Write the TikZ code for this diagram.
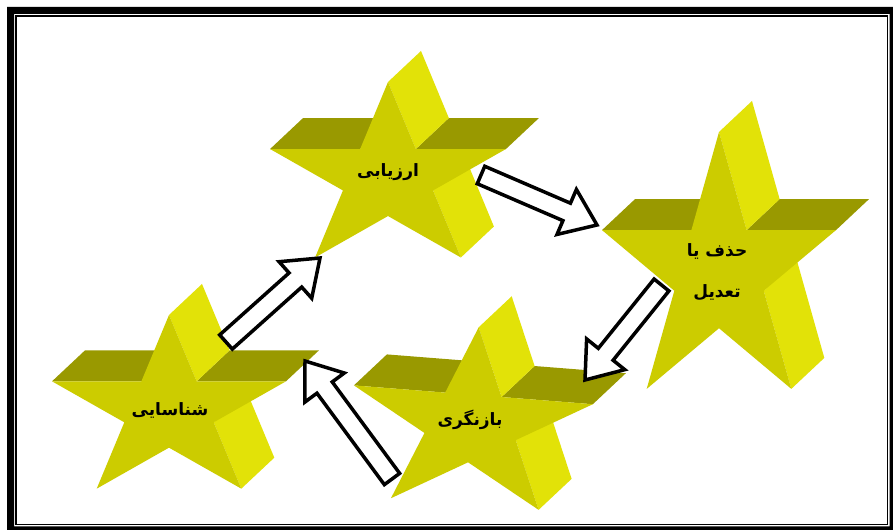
\documentclass[tikz,border=0pt]{standalone}
\usepackage{fontspec}
\newfontfamily\arabicfont[Script=Arabic]{DejaVu Sans}
\TeXXeTstate=1
\usetikzlibrary{calc}
\definecolor{starfront}{RGB}{204,204,0}
\definecolor{stardark}{RGB}{153,153,0}
\definecolor{starlight}{RGB}{226,226,8}
\tikzset{
  starlabel/.style={font=\arabicfont\bfseries\fontsize{17}{41}\selectfont, text=black, inner sep=0pt, align=center},
  blockarrowstyle/.style={draw=black, fill=white, line width=3.5pt, line join=miter},
  frontface/.style={fill=starfront},
  darkface/.style={fill=stardark},
  lightface/.style={fill=starlight},
}
% #1 name, #2 cx, #3 cy, #4 horizontal radius, #5 vertical radius, #6 rotation
\newcommand{\threedstar}[6]{%
  \begin{scope}[shift={(#2,#3)}, rotate=#6]
    \foreach \k in {0,...,9}{%
      \pgfmathsetmacro{\rr}{ifthenelse(mod(\k,2)==0,1,0.382)}
      \coordinate (#1-\k) at ({#4*\rr*cos(90+36*\k)},{#5*\rr*sin(90+36*\k)});
    }
  \end{scope}
  \foreach \k in {0,...,9}{%
    \coordinate (#1-b\k) at ($(#1-\k)+(33,31)$);
  }
  \fill[darkface] (#1-2) -- (#1-1) -- (#1-b1) -- (#1-b2) -- cycle;
  \fill[darkface] (#1-9) -- (#1-8) -- (#1-b8) -- (#1-b9) -- cycle;
  \fill[lightface] (#1-0) -- (#1-9) -- (#1-b9) -- (#1-b0) -- cycle;
  \fill[lightface] (#1-7) -- (#1-6) -- (#1-b6) -- (#1-b7) -- cycle;
  \fill[frontface] (#1-0) \foreach \k in {1,...,9}{ -- (#1-\k)} -- cycle;
}
% #1 name, #2 tail coordinate, #3 tip coordinate
\newcommand{\blockarrow}[3]{%
  \coordinate (#1-h) at ($(#3)!33pt!(#2)$);
  \draw[blockarrowstyle]
    ($(#2)!9.5pt!90:(#3)$) -- ($(#1-h)!9.5pt!90:(#3)$) -- ($(#1-h)!24.5pt!90:(#3)$)
    -- (#3) -- ($(#1-h)!24.5pt!-90:(#3)$) -- ($(#1-h)!9.5pt!-90:(#3)$)
    -- ($(#2)!9.5pt!-90:(#3)$) -- cycle;
}
\begin{document}
\begin{tikzpicture}[x=1pt,y=1pt]
  \useasboundingbox (0,0) rectangle (893,532);
  \fill[white] (0,0) rectangle (893,532);
  % frame
  \fill[black, even odd rule] (7,2) rectangle (893,525) (14,5.5) rectangle (889.7,518);
  \draw[black, line width=1.2pt] (16,7.6) rectangle (887.6,516);

  % stars
  \threedstar{sa}{388}{353}{124}{97}{0}
  \threedstar{sd}{169}{121}{123}{96}{0}
  \threedstar{sc}{471}{107}{126}{98}{-4.5}
  \threedstar{sb}{719}{258}{123}{142}{0}

  % labels
  \node[starlabel] (la) at (388,360) {\beginR ارزیابی\endR};
  \node[starlabel] (lb) at (717,260) {\beginR حذف یا\endR\\\beginR تعدیل\endR};
  \node[starlabel] (lc) at (470,112) {\beginR بازنگری\endR};
  \node[starlabel] (ld) at (170,122) {\beginR شناسایی\endR};

  % arrow end points
  \coordinate (a1s) at (481,357);
  \coordinate (a1e) at (597,307);
  \coordinate (a2s) at (226,190);
  \coordinate (a2e) at (320,274);
  \coordinate (a3s) at (661.5,247);
  \coordinate (a3e) at (585,152);
  \coordinate (a4s) at (392,53);
  \coordinate (a4e) at (305,171);

  \blockarrow{ar1}{a1s}{a1e}
  \blockarrow{ar2}{a2s}{a2e}
  \blockarrow{ar3}{a3s}{a3e}
  \blockarrow{ar4}{a4s}{a4e}
\end{tikzpicture}
\end{document}
